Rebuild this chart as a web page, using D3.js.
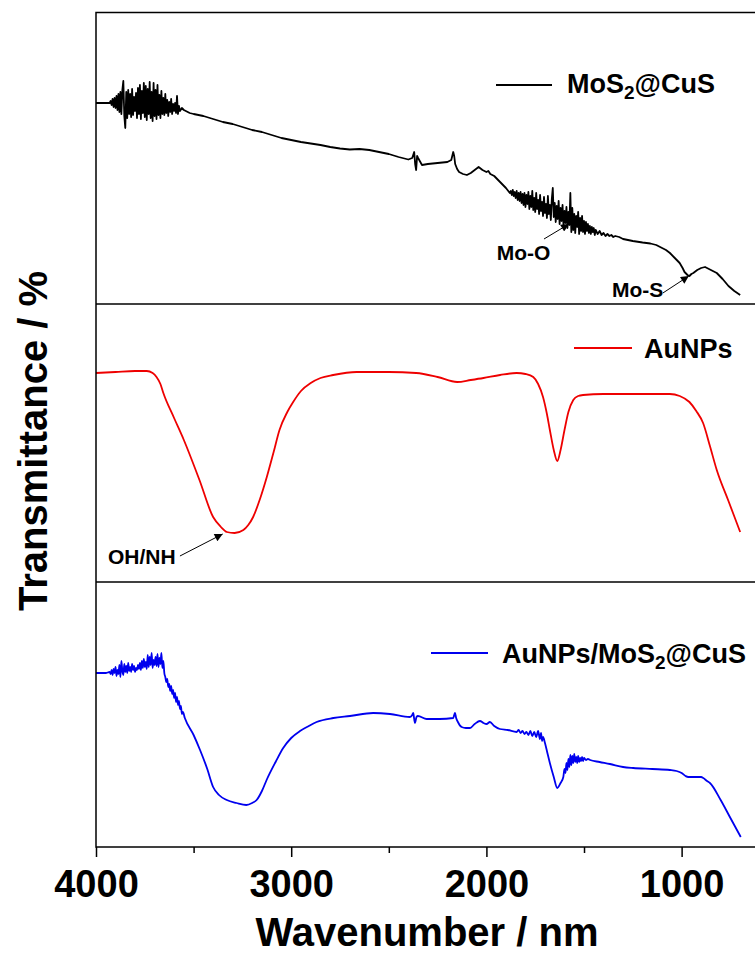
<!DOCTYPE html>
<html lang="en">
<head>
<meta charset="UTF-8">
<title>FTIR</title>
<script src="https://d3js.org/d3.v7.min.js"></script>
<style>
  body { margin: 0; background: #fff; }
  text { font-family: Arial, "Liberation Sans", sans-serif; font-weight: bold; }
</style>
</head>
<body>
<div id="my_dataviz"></div>
<script>
// [wavenumber (cm-1), transmittance (a.u., offset above panel floor)]
var mosData = [
    [4000,201],[3950,201],[3930,201],[3925,203],[3920,199],[3915,205],[3910,197],[3905,206],[3900,196],[3895,208],
    [3890,194],[3885,210],[3880,192],[3875,212],[3870,190],[3865,214],[3860,223],[3855,188],[3850,176],[3845,212],
    [3840,186],[3835,214],[3830,190],[3825,210],[3820,187],[3815,215],[3810,189],[3805,207],[3800,193],[3795,211],
    [3790,186],[3785,216],[3780,190],[3775,219],[3770,185],[3765,213],[3760,191],[3755,221],[3750,187],[3745,218],
    [3740,184],[3735,215],[3730,190],[3725,222],[3720,186],[3715,212],[3710,183],[3705,221],[3700,188],[3695,214],
    [3690,185],[3685,219],[3680,189],[3675,209],[3670,186],[3665,213],[3660,190],[3655,206],[3650,189],[3645,210],
    [3640,191],[3635,204],[3630,188],[3625,202],[3620,192],[3615,205],[3610,190],[3605,200],[3600,193],[3595,201],
    [3590,191],[3585,208],[3580,190],[3575,198],[3570,193],[3560,196],[3550,194],[3540,193],[3520,191],[3500,190],
    [3450,188],[3400,185],[3350,182],[3300,180],[3250,177],[3200,174],[3150,172],[3100,169],[3050,166],[3000,164],
    [2950,162],[2900,160.5],[2850,159],[2800,157],[2750,155.5],[2700,154.5],[2650,155],[2600,154],[2550,152],[2500,150],
    [2450,147],[2400,144.5],[2380,146],[2370,152],[2365,140],[2360,134],[2355,148],[2350,146],[2330,139],[2300,140],
    [2250,141],[2200,142],[2180,144],[2170,152],[2165,148],[2160,140],[2150,135],[2140,132],[2120,130],[2100,129],
    [2080,131],[2060,134],[2040,137],[2020,134],[2000,132],[1990,133],[1980,130],[1960,128],[1930,122],[1900,116],
    [1880,111],[1875,113],[1870,109],[1865,114],[1860,108],[1855,112],[1850,106],[1845,113],[1840,104],[1835,111],
    [1830,103],[1825,112],[1820,101],[1815,110],[1810,99],[1805,111],[1800,97],[1795,109],[1790,100],[1785,112],
    [1780,95],[1775,108],[1770,97],[1765,113],[1760,94],[1755,106],[1750,92],[1745,111],[1740,95],[1735,104],
    [1730,90],[1725,109],[1720,93],[1715,102],[1710,88],[1705,107],[1700,91],[1695,100],[1690,86],[1685,108],
    [1680,90],[1675,99],[1670,84],[1665,105],[1660,116],[1655,87],[1650,101],[1645,82],[1640,98],[1635,85],
    [1630,103],[1625,80],[1620,96],[1615,83],[1610,99],[1605,78],[1600,93],[1595,81],[1590,97],[1585,76],
    [1580,92],[1575,79],[1570,111],[1565,72],[1560,96],[1555,74],[1550,90],[1545,71],[1540,88],[1535,77],
    [1530,92],[1525,70],[1520,86],[1515,73],[1510,88],[1505,72],[1500,83],[1495,70],[1490,82],[1485,73],
    [1480,80],[1475,71],[1470,78],[1465,70],[1460,77],[1455,72],[1450,76],[1445,69],[1440,74],[1430,70],
    [1420,73],[1410,69],[1400,71],[1390,68],[1380,70],[1370,68],[1360,69],[1350,67],[1340,68],[1320,67],
    [1300,65],[1250,63],[1200,61.5],[1160,60.5],[1130,59],[1100,56],[1080,54],[1060,51],[1035,46],[1010,41],
    [995,36],[985,32],[970,29],[960,28],[950,30],[940,31],[920,34],[900,36],[880,37],[860,35],[840,33],
    [820,31],[790,25],[760,18],[730,13],[700,9]
];

var auData = [
    [4000,209],[3900,210],[3800,211],[3740,211],[3710,209],[3690,205],[3670,198],[3655,189],[3600,164],[3550,142],
    [3470,102],[3400,65],[3360,55],[3330,50],[3290,49],[3245,52],[3220,57],[3195,65],[3160,83],[3125,105],
    [3090,130],[3060,152],[3020,170],[2990,180],[2950,191],[2900,199],[2850,204],[2785,207],[2665,210],[2500,210],
    [2360,209],[2250,205],[2150,200],[2080,202],[2015,204],[1930,207],[1845,209],[1800,208],[1760,205],[1735,198],
    [1710,185],[1690,168],[1675,152],[1655,132],[1637,121],[1620,132],[1600,152],[1580,170],[1555,182],[1530,186],
    [1505,187],[1400,188],[1200,188],[1060,188],[1010,186],[960,180],[925,171],[890,159],[855,136],[820,112],
    [760,81],[700,50]
];

var compData = [
    [4000,174],[3950,174],[3930,175],[3925,173],[3920,177],[3915,172],[3910,178],[3905,174],[3900,180],[3895,171],
    [3890,177],[3885,173],[3880,182],[3875,170],[3870,186],[3865,176],[3860,172],[3855,183],[3850,175],[3845,181],
    [3840,174],[3835,184],[3830,176],[3825,180],[3820,175],[3815,183],[3810,177],[3805,181],[3800,175],[3795,179],
    [3790,177],[3785,182],[3780,178],[3775,184],[3770,177],[3765,186],[3760,179],[3755,188],[3750,180],[3745,185],
    [3740,178],[3735,192],[3730,180],[3725,190],[3720,182],[3715,194],[3710,179],[3705,187],[3700,182],[3695,190],
    [3690,181],[3685,193],[3680,180],[3675,189],[3670,183],[3665,194],[3660,179],[3655,186],[3650,174],[3645,170],
    [3640,165],[3635,168],[3630,160],[3625,163],[3620,156],[3615,161],[3610,153],[3605,157],[3600,149],[3595,154],
    [3590,145],[3585,150],[3580,142],[3575,146],[3570,138],[3565,141],[3560,133],[3555,135],[3545,129],[3500,112],
    [3467,97],[3430,78],[3400,60],[3370,52],[3330,47],[3280,44],[3230,42],[3200,44],[3177,47],[3150,56],
    [3126,67],[3080,85],[3041,99],[3000,109],[2955,116],[2910,121],[2870,125],[2784,129],[2699,131],[2580,134],
    [2494,133],[2392,130],[2380,132],[2375,134],[2370,128],[2366,124],[2358,130],[2351,131],[2306,128],[2240,128],
    [2170,129],[2165,132],[2161,134],[2155,129],[2146,125],[2127,120],[2105,119],[2084,119],[2060,123],[2033,126],
    [2015,124],[1999,123],[1982,125],[1960,121],[1931,118],[1890,117],[1845,115],[1835,117],[1825,114],[1815,116],
    [1805,113],[1795,115],[1785,112],[1775,116],[1765,111],[1755,115],[1745,110],[1735,116],[1726,108],[1720,114],
    [1715,106],[1710,110],[1700,104],[1690,96],[1675,84],[1655,70],[1637,59],[1620,64],[1606,70],[1600,78],
    [1595,74],[1590,84],[1585,77],[1580,88],[1575,80],[1570,92],[1565,82],[1560,91],[1555,84],[1550,93],
    [1545,85],[1540,90],[1535,84],[1530,91],[1525,85],[1520,89],[1515,86],[1510,90],[1505,86],[1500,89],
    [1490,87],[1480,88],[1469,87],[1420,85],[1367,83],[1300,80],[1248,79],[1150,78],[1060,77],[1026,76],
    [1000,74],[980,71],[966,70],[930,70],[900,70],[889,69],[870,66],[855,64],[800,47],[750,29],[697,10]
];

var seriesNames = ["MoS2@CuS", "AuNPs", "AuNPs/MoS2@CuS"];
var seriesColors = ["#000000", "#ee0000", "#0000ee"];
var majorTicks = [4000, 3000, 2000, 1000];
var minorTicks = [3500, 2500, 1500];

var W = 755, H = 954;
var svg = d3.select("#my_dataviz").append("svg")
    .attr("width", W).attr("height", H);

var x = d3.scaleLinear().domain([4000, 600]).range([96, 759.7]);

// three stacked panels: [top, bottom]
var panels = [
    { top: 12.5, bottom: 304, data: mosData, curve: d3.curveLinear },
    { top: 304, bottom: 582, data: auData, curve: d3.curveMonotoneX },
    { top: 582, bottom: 847, data: compData, curve: d3.curveMonotoneX }
];
panels.forEach(function (p, i) {
    p.y = d3.scaleLinear().domain([0, p.bottom - p.top]).range([p.bottom, p.top]);
    p.color = seriesColors[i];
});

svg.append("defs").append("marker")
    .attr("id", "arr")
    .attr("viewBox", "0 0 10 10")
    .attr("refX", 10).attr("refY", 5)
    .attr("markerWidth", 10).attr("markerHeight", 8)
    .attr("markerUnits", "userSpaceOnUse")
    .attr("orient", "auto")
    .append("path").attr("d", "M0,0 L10,5 L0,10 Z").attr("fill", "#000");

// curves
panels.forEach(function (p) {
    svg.append("path")
        .datum(p.data)
        .attr("fill", "none")
        .attr("stroke", p.color)
        .attr("stroke-width", 1.8)
        .attr("stroke-linejoin", "round")
        .attr("d", d3.line()
            .curve(p.curve)
            .x(function (d) { return x(d[0]); })
            .y(function (d) { return p.y(d[1]); }));
});

// frame and panel separators
svg.append("rect")
    .attr("x", 96).attr("y", 12.5)
    .attr("width", 759.7 - 96).attr("height", 847 - 12.5)
    .attr("fill", "none").attr("stroke", "#000").attr("stroke-width", 1.5);
[304, 582].forEach(function (yy) {
    svg.append("line").attr("x1", 96).attr("x2", 760)
        .attr("y1", yy).attr("y2", yy)
        .attr("stroke", "#000").attr("stroke-width", 1.5);
});

// bottom axis
var ax = svg.append("g").attr("transform", "translate(0,847)")
    .call(d3.axisBottom(x).tickValues(majorTicks).tickSize(10).tickPadding(13)
        .tickFormat(d3.format("d")));
ax.select(".domain").remove();
ax.selectAll("line").attr("stroke-width", 1.5);
ax.selectAll("text").style("font-size", "38px").attr("fill", "#000")
    .style("font-family", "Arial, 'Liberation Sans', sans-serif").style("font-weight", "bold");
var axm = svg.append("g").attr("transform", "translate(0,847)")
    .call(d3.axisBottom(x).tickValues(minorTicks).tickSize(6).tickFormat(""));
axm.select(".domain").remove();
axm.selectAll("line").attr("stroke-width", 1.5);

// axis titles
svg.append("text")
    .attr("x", 427).attr("y", 946)
    .attr("text-anchor", "middle")
    .style("font-size", "40px")
    .text("Wavenumber / nm");
svg.append("text")
    .attr("transform", "translate(47,441) rotate(-90)")
    .attr("text-anchor", "middle")
    .style("font-size", "40px")
    .text("Transmittance / %");

// legends
var legends = [
    { x1: 496, x2: 552, ly: 85, tx: 567, ty: 93, parts: ["MoS", "2", "@CuS"] },
    { x1: 574, x2: 632, ly: 348, tx: 644, ty: 358, parts: ["AuNPs"] },
    { x1: 431, x2: 488, ly: 653, tx: 502, ty: 663, parts: ["AuNPs/MoS", "2", "@CuS"] }
];
legends.forEach(function (l, i) {
    svg.append("line")
        .attr("x1", l.x1).attr("x2", l.x2).attr("y1", l.ly).attr("y2", l.ly)
        .attr("stroke", seriesColors[i]).attr("stroke-width", 2);
    var t = svg.append("text").attr("x", l.tx).attr("y", l.ty).style("font-size", "27px");
    t.append("tspan").text(l.parts[0]);
    if (l.parts.length > 1) {
        t.append("tspan").attr("dy", 6).style("font-size", "19px").text(l.parts[1]);
        t.append("tspan").attr("dy", -6).text(l.parts[2]);
    }
});

// band annotations: text position and arrow (start -> tip) in data units
var notes = [
    { panel: 0, label: "Mo-O", tw: 1947, tv: 44, w0: 1705, v0: 65, w1: 1577, v1: 80 },
    { panel: 0, label: "Mo-S", tw: 1357, tv: 7, w0: 1096, v0: 11, w1: 963, v1: 28 },
    { panel: 1, label: "OH/NH", tw: 3939, tv: 18, w0: 3570, v0: 26, w1: 3351, v1: 48 }
];
notes.forEach(function (n) {
    var p = panels[n.panel];
    svg.append("text")
        .attr("x", x(n.tw)).attr("y", p.y(n.tv))
        .style("font-size", "21px")
        .text(n.label);
    svg.append("line")
        .attr("x1", x(n.w0)).attr("y1", p.y(n.v0))
        .attr("x2", x(n.w1)).attr("y2", p.y(n.v1))
        .attr("stroke", "#000").attr("stroke-width", 1)
        .attr("marker-end", "url(#arr)");
});
</script>
</body>
</html>
